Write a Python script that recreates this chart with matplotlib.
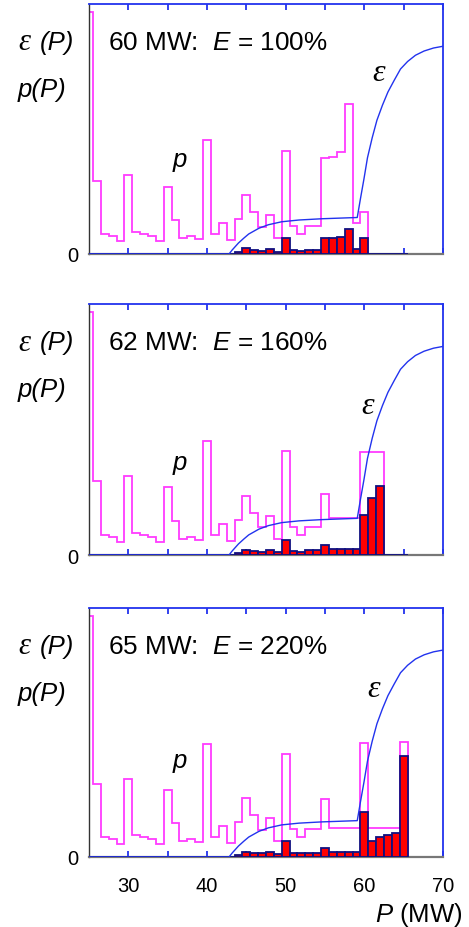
import matplotlib
matplotlib.use('Agg')
import matplotlib.pyplot as plt
import numpy as np

plt.rcParams['font.family'] = ['Liberation Sans', 'DejaVu Sans']
plt.rcParams['mathtext.fontset'] = 'custom'
plt.rcParams['mathtext.rm'] = 'Liberation Sans'
plt.rcParams['mathtext.it'] = 'Liberation Sans:italic'

# ---------------- data ----------------
bin_centers = list(range(25, 66))          # 1 MW bins, centred on integers

p_60 = [0.967, 0.293, 0.080, 0.071, 0.052, 0.315, 0.089, 0.080, 0.073, 0.051,
        0.269, 0.135, 0.065, 0.073, 0.060, 0.455, 0.079, 0.123, 0.057, 0.140,
        0.237, 0.167, 0.110, 0.155, 0.063, 0.413, 0.112, 0.080, 0.113, 0.113,
        0.383, 0.389, 0.409, 0.600, 0.126, 0.167]
p_62 = [0.967, 0.293, 0.080, 0.071, 0.052, 0.315, 0.089, 0.080, 0.073, 0.051,
        0.269, 0.135, 0.065, 0.073, 0.060, 0.455, 0.079, 0.123, 0.057, 0.140,
        0.237, 0.167, 0.110, 0.155, 0.063, 0.413, 0.112, 0.080, 0.113, 0.113,
        0.243, 0.147, 0.147, 0.147, 0.147, 0.410, 0.410, 0.410]
p_65 = [0.967, 0.293, 0.080, 0.071, 0.052, 0.315, 0.089, 0.080, 0.073, 0.051,
        0.269, 0.135, 0.065, 0.073, 0.060, 0.455, 0.079, 0.123, 0.057, 0.140,
        0.237, 0.167, 0.110, 0.155, 0.063, 0.413, 0.112, 0.080, 0.113, 0.113,
        0.232, 0.117, 0.117, 0.117, 0.117, 0.459, 0.117, 0.117, 0.117, 0.117,
        0.463]

r_60 = [0.0] * 19 + [0.007, 0.023, 0.017, 0.013, 0.021, 0.009, 0.064, 0.017,
                     0.013, 0.017, 0.017, 0.064, 0.064, 0.067, 0.099, 0.021,
                     0.065, 0.0, 0.0, 0.0, 0.0, 0.0]
r_62 = [0.0] * 19 + [0.007, 0.021, 0.016, 0.013, 0.021, 0.011, 0.061, 0.016,
                     0.013, 0.021, 0.021, 0.041, 0.023, 0.023, 0.023, 0.023,
                     0.160, 0.228, 0.276, 0.0, 0.0, 0.0]
r_65 = [0.0] * 19 + [0.009, 0.021, 0.017, 0.015, 0.021, 0.013, 0.064, 0.017,
                     0.015, 0.017, 0.017, 0.037, 0.021, 0.021, 0.021, 0.021,
                     0.182, 0.064, 0.081, 0.090, 0.095, 0.407]

eps_x = [25.0, 42.8, 43.2, 44.0, 44.7, 45.3, 46.6, 47.8, 49.5, 51.7, 54.6, 59.1,
         59.5, 59.95, 60.4, 61.0, 61.6, 62.3, 63.0, 63.8, 64.6, 65.5, 66.5,
         67.6, 68.8, 70.0]
eps_y = [0.0, 0.0, 0.016, 0.044, 0.064, 0.080, 0.103, 0.117, 0.129, 0.136,
         0.141, 0.146, 0.220, 0.300, 0.385, 0.465, 0.535, 0.595, 0.648, 0.695,
         0.740, 0.770, 0.795, 0.812, 0.824, 0.831]

panel_titles = ['60 MW:  $E$ = 100%', '62 MW:  $E$ = 160%', '65 MW:  $E$ = 220%']
p_series = [p_60, p_62, p_65]
r_series = [r_60, r_62, r_65]
eps_label_pos = [(61.8, 0.724), (60.4, 0.596), (61.2, 0.675)]
p_label_pos = [(36.6, 0.38), (36.6, 0.37), (36.6, 0.39)]
major_ticks = [30, 35, 40, 45, 50, 55, 60, 65, 70]
tick_labels = ['30', '', '40', '', '50', '', '60', '', '70']

# ---------------- figure ----------------
W, H = 469, 928
fig = plt.figure(figsize=(W / 100, H / 100), dpi=100)

panel_px = [(5, 255), (305, 556), (609, 858)]
ax_left, ax_right = 89, 443

BLUE = '#2233ee'
NAVY = '#101080'
MAG = '#ff3cff'

for i, (top, bot) in enumerate(panel_px):
    ax = fig.add_axes([ax_left / W, 1 - bot / H, (ax_right - ax_left) / W, (bot - top) / H])
    p = p_series[i]
    r = r_series[i]
    edges = np.arange(len(p) + 1) + 24.5
    ax.stairs(p, edges, baseline=0, color=MAG, linewidth=1.3, zorder=2)
    ax.bar(bin_centers, r, width=1.0, color='#ff0000', edgecolor=NAVY,
           linewidth=1.3, zorder=3)
    ax.plot(eps_x, eps_y, color=BLUE, linewidth=1.0, zorder=4)

    ax.set_xlim(25, 70)
    ax.set_ylim(0, 1)

    for s in ['top', 'right']:
        ax.spines[s].set_color(BLUE)
        ax.spines[s].set_linewidth(1.3)
    ax.spines['left'].set_color('#333333')
    ax.spines['left'].set_linewidth(1.0)
    ax.spines['bottom'].set_color('#777777')
    ax.spines['bottom'].set_linewidth(1.6)

    ax.set_xticks(major_ticks)
    ax.tick_params(axis='x', which='both', direction='in', top=True, bottom=True,
                   color=BLUE, length=4, width=1.3, pad=14, labelsize=14.5)
    if i == 2:
        ax.set_xticklabels(tick_labels)
    else:
        ax.set_xticklabels([])
    ax.set_yticks([0])
    ax.set_yticklabels(['0'])
    ax.tick_params(axis='y', length=0, pad=8, labelsize=14.5)

    # labels outside
    ax.text(-0.2006, 0.848, 'ε', transform=ax.transAxes, ha='left', va='center',
            fontsize=22, family='Liberation Serif', style='italic')
    ax.text(-0.138, 0.848, '(P)', transform=ax.transAxes, ha='left', va='center',
            fontsize=18.5, style='italic')
    ax.text(-0.2006, 0.66, 'p(P)', transform=ax.transAxes, ha='left', va='center',
            fontsize=18.5, style='italic')
    ax.text(0.054, 0.848, panel_titles[i], transform=ax.transAxes, ha='left',
            va='center', fontsize=18.8)
    ax.text(p_label_pos[i][0], p_label_pos[i][1], 'p', ha='center', va='center',
            fontsize=18.5, style='italic')
    ax.text(eps_label_pos[i][0], eps_label_pos[i][1], 'ε', ha='center', va='center',
            fontsize=23, family='Liberation Serif', style='italic')

fig.text(463 / W, 1 - 915 / H, '$P$ (MW)', ha='right', va='center', fontsize=18.5)

fig.savefig('out.png', dpi=100)
